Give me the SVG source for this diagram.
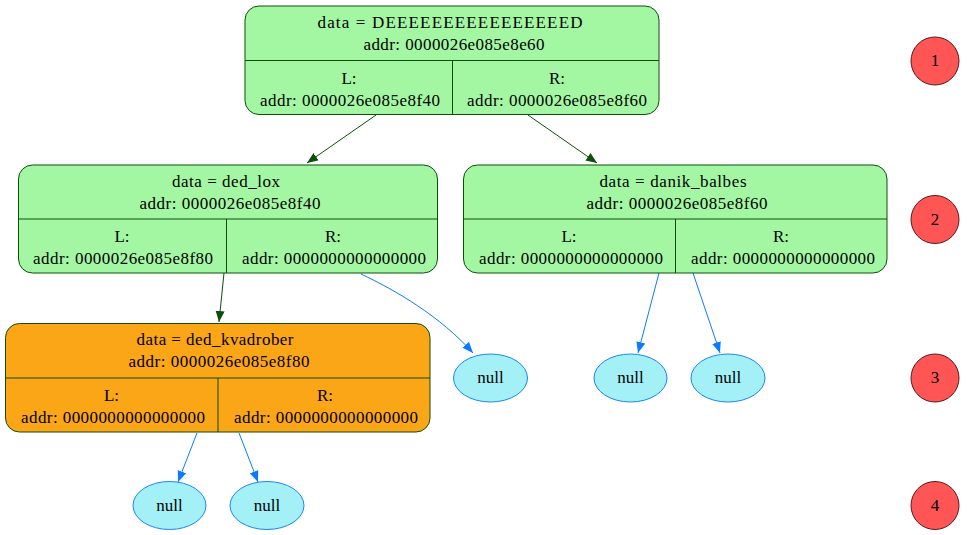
<svg xmlns="http://www.w3.org/2000/svg" width="968" height="535" viewBox="0 0 968 535">
<style>
text{font-family:"Liberation Serif","DejaVu Serif","Times New Roman",serif;font-size:17px;fill:#000;text-anchor:middle}
.g{fill:#a3f7a3;stroke:#0b4f0b;stroke-width:1}
.o{fill:#fba616;stroke:#0b4f0b;stroke-width:1}
.ln{stroke:#0b4f0b;stroke-width:1;fill:none}
.nl{fill:#a3f0f7;stroke:#1a84ff;stroke-width:1}
.rk{fill:#ff5555;stroke:#5a1a1a;stroke-width:1}
.eg{stroke:#0b4f0b;stroke-width:1;fill:none;marker-end:url(#ag)}
.eb{stroke:#0a7bff;stroke-width:1;fill:none;marker-end:url(#ab)}
</style>
<defs>
<marker id="ag" markerUnits="userSpaceOnUse" markerWidth="12" markerHeight="10" refX="11" refY="4.5" orient="auto"><path d="M0,0 L11,4.5 L0,9 z" fill="#0b4f0b"/></marker>
<marker id="ab" markerUnits="userSpaceOnUse" markerWidth="12" markerHeight="10" refX="11" refY="4.5" orient="auto"><path d="M0,0 L11,4.5 L0,9 z" fill="#0a7bff"/></marker>
</defs>
<rect width="968" height="535" fill="#fff"/>
<g id="edges">
<path class="eg" d="M376,115 L307,163"/>
<path class="eg" d="M528,115 L597,163"/>
<path class="eg" d="M224,273 L219,322"/>
<path class="eb" d="M361,274 C395,290 440,316 473,353"/>
<path class="eb" d="M659,273 L638,353"/>
<path class="eb" d="M693,273 L720,353"/>
<path class="eb" d="M197,433 L178,482"/>
<path class="eb" d="M239,433 L258,482"/>
</g>
<g id="root">
<rect class="g" x="245" y="6" width="414" height="108.5" rx="14"/>
<line class="ln" x1="245" y1="60.5" x2="659" y2="60.5"/>
<line class="ln" x1="452.5" y1="60.5" x2="452.5" y2="114.5"/>
<text x="450" y="28" textLength="265" lengthAdjust="spacing">data = DEEEEEEEEEEEEEEEED</text>
<text x="454" y="50" textLength="181" lengthAdjust="spacing">addr: 0000026e085e8e60</text>
<text x="349" y="84">L:</text>
<text x="350" y="106" textLength="180" lengthAdjust="spacing">addr: 0000026e085e8f40</text>
<text x="557" y="84">R:</text>
<text x="557" y="106" textLength="180" lengthAdjust="spacing">addr: 0000026e085e8f60</text>
</g>
<g id="ded_lox">
<rect class="g" x="18.5" y="165" width="419" height="108" rx="14"/>
<line class="ln" x1="18.5" y1="219" x2="437.5" y2="219"/>
<line class="ln" x1="226.5" y1="219" x2="226.5" y2="273"/>
<text x="226" y="187" textLength="108" lengthAdjust="spacing">data = ded_lox</text>
<text x="230" y="209" textLength="181" lengthAdjust="spacing">addr: 0000026e085e8f40</text>
<text x="122" y="242">L:</text>
<text x="123" y="264" textLength="180" lengthAdjust="spacing">addr: 0000026e085e8f80</text>
<text x="333" y="242">R:</text>
<text x="334" y="264" textLength="184" lengthAdjust="spacing">addr: 0000000000000000</text>
</g>
<g id="danik_balbes">
<rect class="g" x="463.5" y="165" width="423.5" height="108" rx="14"/>
<line class="ln" x1="463.5" y1="219" x2="887" y2="219"/>
<line class="ln" x1="675.5" y1="219" x2="675.5" y2="273"/>
<text x="673" y="187" textLength="147" lengthAdjust="spacing">data = danik_balbes</text>
<text x="677" y="209" textLength="181" lengthAdjust="spacing">addr: 0000026e085e8f60</text>
<text x="569" y="242">L:</text>
<text x="571" y="264" textLength="184" lengthAdjust="spacing">addr: 0000000000000000</text>
<text x="781" y="242">R:</text>
<text x="783" y="264" textLength="184" lengthAdjust="spacing">addr: 0000000000000000</text>
</g>
<g id="ded_kvadrober">
<rect class="o" x="5.5" y="323.5" width="424.5" height="108.5" rx="14"/>
<line class="ln" x1="5.5" y1="378" x2="430" y2="378"/>
<line class="ln" x1="218" y1="378" x2="218" y2="432"/>
<text x="215" y="345" textLength="157" lengthAdjust="spacing">data = ded_kvadrober</text>
<text x="219" y="367" textLength="181" lengthAdjust="spacing">addr: 0000026e085e8f80</text>
<text x="111.5" y="401">L:</text>
<text x="113" y="423" textLength="184" lengthAdjust="spacing">addr: 0000000000000000</text>
<text x="325" y="401">R:</text>
<text x="326" y="423" textLength="184" lengthAdjust="spacing">addr: 0000000000000000</text>
</g>
<g id="null1"><ellipse class="nl" cx="490.5" cy="378" rx="37" ry="24"/><text x="490.5" y="383">null</text></g>
<g id="null2"><ellipse class="nl" cx="630.5" cy="378" rx="36.5" ry="24"/><text x="630.5" y="383">null</text></g>
<g id="null3"><ellipse class="nl" cx="728" cy="378" rx="37" ry="24"/><text x="728" y="383">null</text></g>
<g id="null4"><ellipse class="nl" cx="169.5" cy="505.5" rx="36.5" ry="24"/><text x="169.5" y="510.5">null</text></g>
<g id="null5"><ellipse class="nl" cx="267" cy="505.5" rx="37" ry="24"/><text x="267" y="510.5">null</text></g>
<g id="rank1"><circle class="rk" cx="935" cy="61" r="24"/><text x="935" y="66">1</text></g>
<g id="rank2"><circle class="rk" cx="935" cy="219.5" r="24"/><text x="935" y="224.5">2</text></g>
<g id="rank3"><circle class="rk" cx="935" cy="378" r="24"/><text x="935" y="383">3</text></g>
<g id="rank4"><circle class="rk" cx="935" cy="505.5" r="24"/><text x="935" y="510.5">4</text></g>
</svg>
